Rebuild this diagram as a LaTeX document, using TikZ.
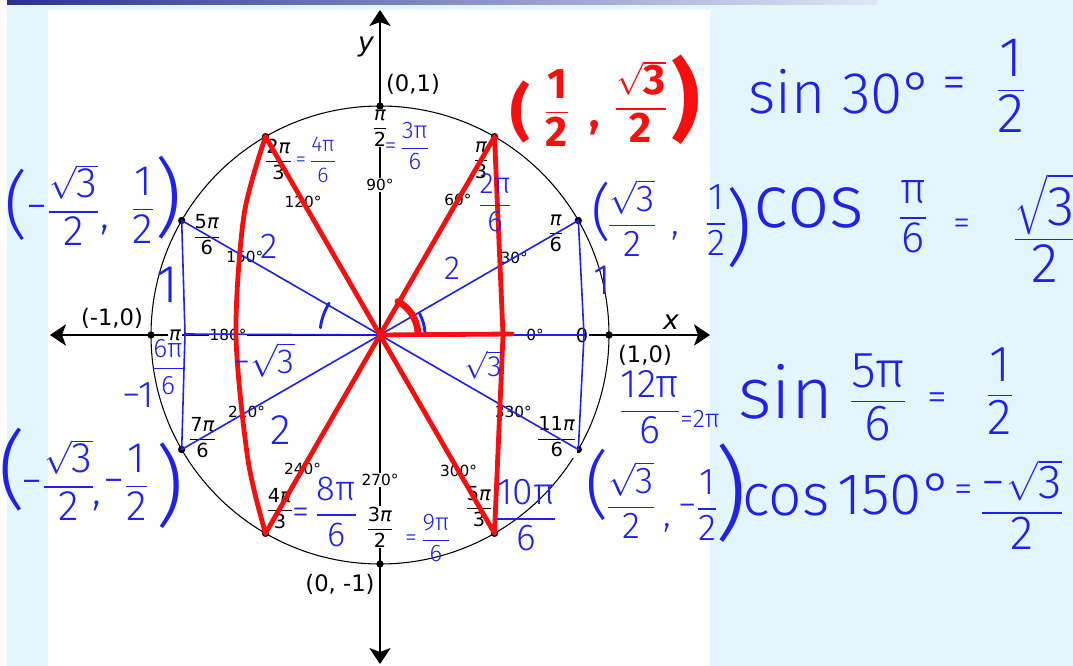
\documentclass[tikz,border=0pt]{standalone}
\usepackage{amsmath}
\usepackage{fontspec}
\setmainfont{DejaVu Sans}
\newfontfamily\handfont{Fira Sans Light}
\newfontfamily\markfont{Fira Sans}
\usetikzlibrary{arrows.meta,positioning}
\definecolor{paneblue}{HTML}{E3F5FD}
\definecolor{barnavy}{HTML}{2B2F8F}
\definecolor{barpale}{HTML}{DCE8F6}
\definecolor{inkblue}{HTML}{1F23E8}
\definecolor{inkred}{HTML}{F50F0F}
\definecolor{spokegrey}{HTML}{6E6E6E}
\newcommand\fr[2]{\ensuremath{\dfrac{\text{#1}}{\text{#2}}}}
\newcommand\rtt{\ensuremath{\sqrt{\text{3}}}}
\newcommand\ppi{\textit{π}}
\tikzset{
  spoke/.style={spokegrey, line width=0.6pt},
  rim/.style={black, line width=0.8pt},
  axisline/.style={black, line width=1.1pt, {Stealth[length=12pt, width=16pt, inset=3pt]}-{Stealth[length=12pt, width=16pt, inset=3pt]}},
  dot/.style={circle, fill=black, inner sep=0pt, minimum size=5.5pt},
  radlab/.style={fill=white, inner sep=0.6pt, font=\fontsize{14.5}{14.5}\selectfont},
  deglab/.style={fill=white, inner sep=0.6pt, font=\fontsize{11.5}{11.5}\selectfont},
  ptlab/.style={inner sep=0pt, font=\fontsize{17}{17}\selectfont},
  axlab/.style={inner sep=0pt, font=\fontsize{20}{20}\selectfont\itshape},
  bline/.style={inkblue, line width=1.2pt, line cap=round, line join=round},
  rline/.style={inkred, line width=3.6pt, line cap=round, line join=round},
  bhand/.style={text=inkblue, inner sep=0pt, font=\handfont\fontsize{#1}{#1}\selectfont},
  rhand/.style={text=inkred, inner sep=0pt, font=\markfont\bfseries\fontsize{#1}{#1}\selectfont},
}
\begin{document}
\begin{tikzpicture}[x=0.75pt, y=-0.75pt]
  % slide
  \useasboundingbox (0,0) rectangle (1073,666);
  \fill[paneblue] (0,0) rectangle (1073,666);
  \fill[white] (0,0) rectangle (7,666);
  \shade[left color=barnavy, right color=barpale] (7,0) rectangle (877,4.5);
  \fill[white] (48,10) rectangle (710,666);
  % unit circle
  \coordinate (O) at (380,335);
  \foreach \a in {0,30,...,330} \path (O) ++(-\a:229) coordinate (p\a);
  \foreach \a in {0,30,...,330} \draw[spoke] (O) -- (p\a);
  \draw[rim] (O) circle[radius=229];
  % axes
  \coordinate (xl) at (50,335);
  \coordinate (xr) at (710,335);
  \coordinate (yt) at (380,10);
  \coordinate (yb) at (380,664);
  \draw[axisline] (xl) -- (xr);
  \draw[axisline] (yb) -- (yt);
  \foreach \a in {0,30,...,330} \node[dot] (d\a) at (p\a) {};
  % printed labels
  \foreach \a/\r/\t in {0/202/0, 30/203/{\fr{\ppi}{6}}, 60/202/{\fr{\ppi}{3}}, 90/207/{\fr{\ppi}{2}},
      120/203/{\fr{2\ppi}{3}}, 150/200/{\fr{5\ppi}{6}}, 180/205/{\ppi}, 210/205/{\fr{7\ppi}{6}},
      240/200/{\fr{4\ppi}{3}}, 270/192/{\fr{3\ppi}{2}}, 300/198/{\fr{5\ppi}{3}}, 330/204/{\fr{11\ppi}{6}}}
    \path (O) ++(-\a:\r) node[radlab] (rad\a) {\t};
  \foreach \a/\r in {0/155, 30/155, 60/156, 90/150, 120/154, 150/156, 180/152, 210/154,
      240/155, 270/145, 300/157, 330/154}
    \path (O) ++(-\a:\r) node[deglab] (deg\a) {\a°};
  \node[ptlab] (top) at (413,84) {(0,1)};
  \node[ptlab] (left) at (112,318) {(-1,0)};
  \node[ptlab] (right) at (645,355) {(1,0)};
  \node[ptlab] (bottom) at (340,584) {(0, -1)};
  \node[axlab] (ylab) at (366,47) {y};
  \node[axlab] (xlab) at (671,322) {x};
  % blue triangles
  \coordinate (rq) at (584,335);
  \coordinate (lq) at (185,334);
  \draw[bline] (O) -- (p30) -- (rq) -- (p330) -- cycle;
  \draw[bline] (rq) -- (O);
  \draw[bline] (O) -- (p150) -- (lq) -- (p210) -- cycle;
  \draw[bline] (lq) -- (O);
  \draw[bline, line width=2.2pt] (O) ++(-148:60) arc[start angle=-148, end angle=-173, radius=60];
  \draw[bline, line width=2.2pt] (O) ++(-3:45) arc[start angle=-3, end angle=-28, radius=45];
  % red triangles
  \draw[rline] (O) -- (p60) -- (503,335) -- (p300) -- cycle;
  \draw[rline] plot[smooth] coordinates {(p120) (244,215) (236,335) (248,460) (p240)};
  \draw[rline] (p120) -- (O) -- (p240);
  \draw[rline] (O) -- (512,334);
  \draw[rline, line width=5pt] (O) ++(-5:38) arc[start angle=-5, end angle=-62, radius=38];
  % blue notes on the circle
  \node[bhand=16] (eq120) at (316,160) {=\,\fr{4π}{6}};
  \node[bhand=18] (eq90) at (407,146) {=\,\fr{3π}{6}};
  \node[bhand=22] (eq60) at (495,203) {\fr{2π}{6}};
  \node[bhand=27] (hypA) at (269,246) {2};
  \node[bhand=25] (hypB) at (452,268) {2};
  \node[bhand=32] (hypC) at (281,430) {2};
  \node[bhand=26] (legA) at (264,360) {−\rtt};
  \node[bhand=22] (legB) at (483,365) {\rtt};
  \node[bhand=20] (eq180) at (168,367) {\fr{6π}{6}};
  \node[bhand=28] (legC) at (138,395) {−1};
  \node[bhand=40] (legD) at (168,285) {1};
  \node[bhand=26] (eq240) at (325,512) {=\,\fr{8π}{6}};
  \node[bhand=18] (eq270) at (428,538) {=\,\fr{9π}{6}};
  \node[bhand=28] (eq300) at (526,515) {\fr{10π}{6}};
  \node[bhand=30] (eq360) at (650,407) {\fr{12π}{6}};
  \node[bhand=19] (eq360b) at (700,419) {=2π};
  % blue points
  \node[bhand=55] (ltlp) at (16,205) {(};
  \node[bhand=32] (ltx) at (63,205) {−\fr{\rtt}{2}};
  \node[bhand=32] (ltcomma) at (105,230) {,};
  \node[bhand=32] (lty) at (143,205) {\fr{1}{2}};
  \node[bhand=64] (ltrp) at (168,198) {)};
  \node[bhand=64] (lblp) at (12,470) {(};
  \node[bhand=32] (lbx) at (58,480) {−\fr{\rtt}{2}};
  \node[bhand=32] (lbcomma) at (97,506) {,};
  \node[bhand=32] (lby) at (126,482) {−\fr{1}{2}};
  \node[bhand=66] (lbrp) at (170,486) {)};
  \node[bhand=46] (rtlp) at (601,212) {(};
  \node[bhand=28] (rtx) at (632,218) {\fr{\rtt}{2}};
  \node[bhand=28] (rtcomma) at (675,236) {,};
  \node[bhand=28] (rty) at (716,220) {\fr{1}{2}};
  \node[bhand=62] (rtrp) at (739,228) {)};
  \node[bhand=32] (rtone) at (602,280) {1};
  \node[bhand=55] (rblp) at (597,485) {(};
  \node[bhand=28] (rbx) at (631,500) {\fr{\rtt}{2}};
  \node[bhand=28] (rbcomma) at (667,528) {,};
  \node[bhand=28] (rby) at (698,505) {−\fr{1}{2}};
  \node[bhand=76] (rbrp) at (731,493) {)};
  % red point
  \node[rhand=46] (rlp) at (520,112) {(};
  \node[rhand=32] (rhalf) at (557,108) {\fr{1}{2}};
  \node[rhand=32] (rcomma) at (595,128) {,};
  \node[rhand=32] (rroot) at (641,102) {\fr{\rtt}{2}};
  \node[rhand=66] (rrp) at (686,100) {)};
  % worked values
  \node[bhand=44] (sinA) at (841,92) {sin 30°};
  \node[bhand=36] (eqA) at (954,88) {=};
  \node[bhand=42] (valA) at (1011,86) {\fr{1}{2}};
  \node[bhand=56] (cosA) at (809,208) {cos};
  \node[bhand=33] (argA) at (913,217) {\fr{π}{6}};
  \node[bhand=26] (eqB) at (962,227) {=};
  \node[bhand=42] (valB) at (1045,228) {\fr{\rtt}{2}};
  \node[bhand=54] (sinB) at (786,392) {sin};
  \node[bhand=38] (argB) at (878,397) {\fr{5π}{6}};
  \node[bhand=30] (eqC) at (937,402) {=};
  \node[bhand=38] (valC) at (1000,391) {\fr{1}{2}};
  \node[bhand=44] (cosB) at (786,500) {cos};
  \node[bhand=44] (degB) at (895,494) {150°};
  \node[bhand=28] (eqD) at (964,493) {=};
  \node[bhand=36] (valD) at (1022,505) {\fr{−\rtt}{2}};
\end{tikzpicture}
\end{document}
